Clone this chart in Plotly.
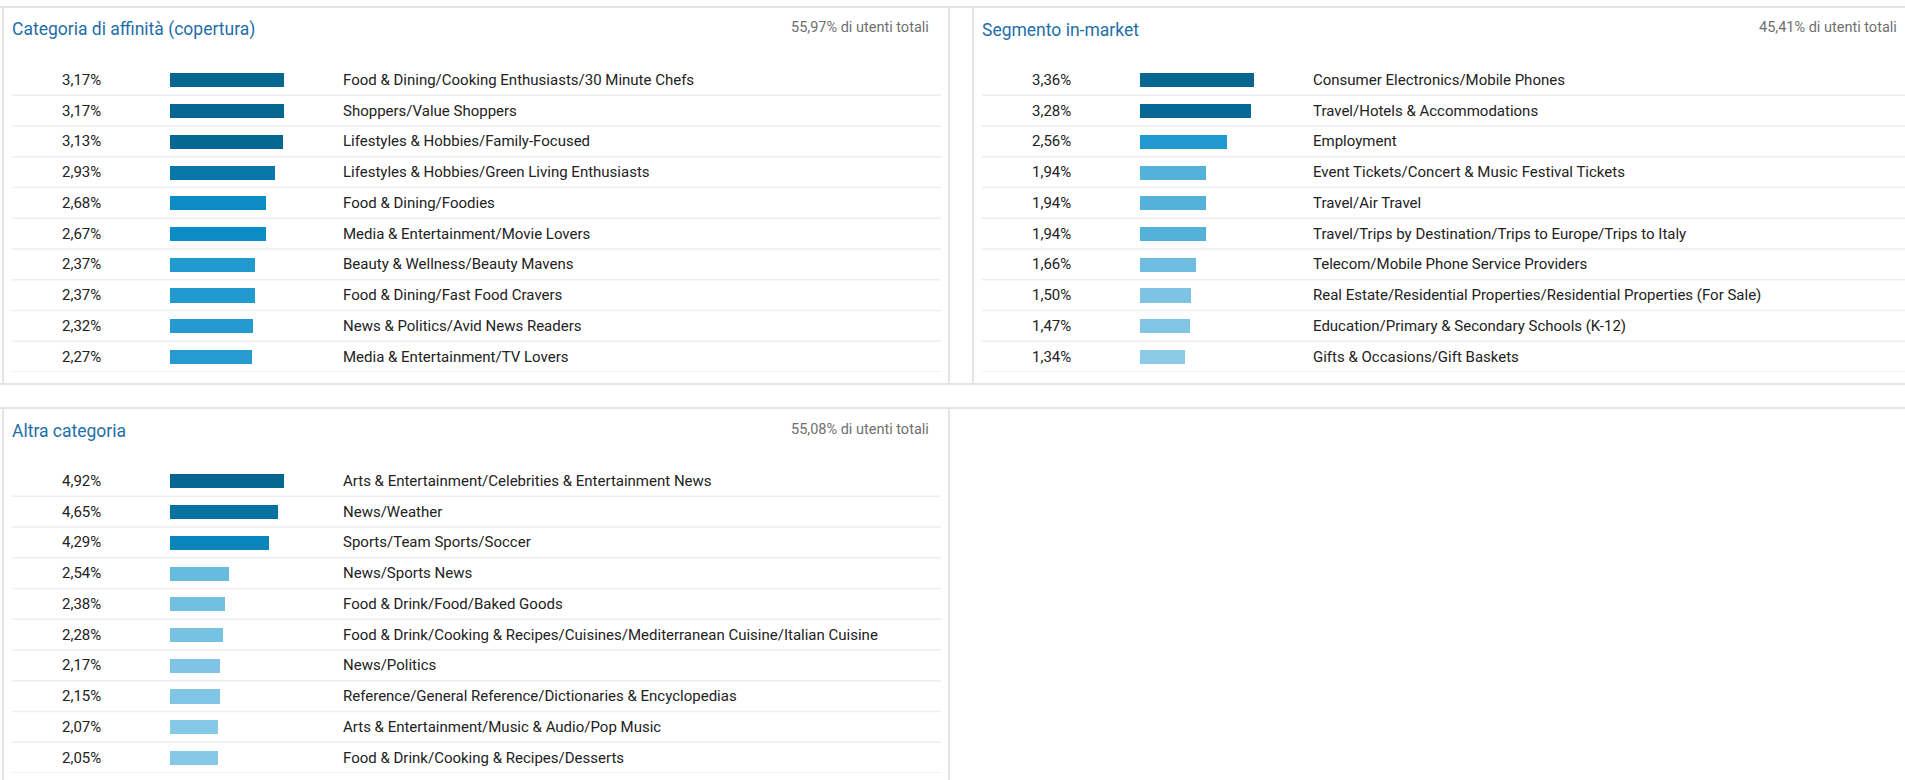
import plotly.graph_objects as go

W, H = 1905, 780

# ---------------- data ----------------
aff_labels = [
    "Food & Dining/Cooking Enthusiasts/30 Minute Chefs",
    "Shoppers/Value Shoppers",
    "Lifestyles & Hobbies/Family-Focused",
    "Lifestyles & Hobbies/Green Living Enthusiasts",
    "Food & Dining/Foodies",
    "Media & Entertainment/Movie Lovers",
    "Beauty & Wellness/Beauty Mavens",
    "Food & Dining/Fast Food Cravers",
    "News & Politics/Avid News Readers",
    "Media & Entertainment/TV Lovers",
]
aff_values = [3.17, 3.17, 3.13, 2.93, 2.68, 2.67, 2.37, 2.37, 2.32, 2.27]

inm_labels = [
    "Consumer Electronics/Mobile Phones",
    "Travel/Hotels & Accommodations",
    "Employment",
    "Event Tickets/Concert & Music Festival Tickets",
    "Travel/Air Travel",
    "Travel/Trips by Destination/Trips to Europe/Trips to Italy",
    "Telecom/Mobile Phone Service Providers",
    "Real Estate/Residential Properties/Residential Properties (For Sale)",
    "Education/Primary & Secondary Schools (K-12)",
    "Gifts & Occasions/Gift Baskets",
]
inm_values = [3.36, 3.28, 2.56, 1.94, 1.94, 1.94, 1.66, 1.50, 1.47, 1.34]

oth_labels = [
    "Arts & Entertainment/Celebrities & Entertainment News",
    "News/Weather",
    "Sports/Team Sports/Soccer",
    "News/Sports News",
    "Food & Drink/Food/Baked Goods",
    "Food & Drink/Cooking & Recipes/Cuisines/Mediterranean Cuisine/Italian Cuisine",
    "News/Politics",
    "Reference/General Reference/Dictionaries & Encyclopedias",
    "Arts & Entertainment/Music & Audio/Pop Music",
    "Food & Drink/Cooking & Recipes/Desserts",
]
oth_values = [4.92, 4.65, 4.29, 2.54, 2.38, 2.28, 2.17, 2.15, 2.07, 2.05]

panel_titles = ["Categoria di affinità (copertura)", "Segmento in-market", "Altra categoria"]
panel_totals = ["55,97% di utenti totali", "45,41% di utenti totali", "55,08% di utenti totali"]

# ---------------- style / layout ----------------
FONT = "Roboto, 'Noto Sans', Arial, sans-serif"
TITLE_COLOR = "#1f6ea8"
TOTAL_COLOR = "#6f6f6f"
TEXT_COLOR = "#222222"
BORDER = "#e4e4e4"
SEP = "#eeeeee"

COLORSCALE = [
    [0.00, "#8ccbe7"],
    [0.083, "#7cc3e3"],
    [0.167, "#6bbde0"],
    [0.30, "#52b1da"],
    [0.50, "#2a9cd1"],
    [0.60, "#1f99d0"],
    [0.75, "#0a8bc4"],
    [0.883, "#0877a8"],
    [0.95, "#066a96"],
    [1.00, "#056791"],
]
CMIN, CMAX = 0.40, 1.0

ROW_H = 30.74


def px_x(x):
    return x / W


def px_y(y):
    return 1 - y / H


panels = [
    dict(labels=aff_labels, values=aff_values, ox=3, oy=7, total_right=931),
    dict(labels=inm_labels, values=inm_values, ox=973, oy=7, total_right=1899),
    dict(labels=oth_labels, values=oth_values, ox=3, oy=408, total_right=931),
]

fig = go.Figure()
annotations = []
shapes = []

for k, p in enumerate(panels):
    ax = "" if k == 0 else str(k + 1)
    xname, yname = "x" + ax, "y" + ax
    vals = p["values"]
    vmax = max(vals)
    n = len(vals)
    ox, oy = p["ox"], p["oy"]
    first = oy + 73
    bar_left = ox + 167
    bar_w = 114

    fig.add_trace(go.Bar(
        x=vals,
        y=list(range(n)),
        orientation="h",
        width=0.46,
        marker=dict(
            color=[v / vmax for v in vals],
            colorscale=COLORSCALE, cmin=CMIN, cmax=CMAX,
            line=dict(width=0),
        ),
        xaxis=xname, yaxis=yname,
        hoverinfo="skip",
        showlegend=False,
    ))

    top_px = first - ROW_H / 2
    bot_px = first + ROW_H * (n - 1) + ROW_H / 2
    fig.update_layout(**{
        ("xaxis" + ax): dict(domain=[px_x(bar_left), px_x(bar_left + bar_w)],
                             range=[0, vmax], visible=False, fixedrange=True,
                             anchor=yname),
        ("yaxis" + ax): dict(domain=[px_y(bot_px), px_y(top_px)],
                             range=[n - 0.5, -0.5], visible=False, fixedrange=True,
                             anchor=xname),
    })

    for i, (lab, v) in enumerate(zip(p["labels"], vals)):
        annotations.append(dict(
            xref="paper", yref=yname, x=px_x(ox + 78), y=i,
            text=f"{v:.2f}".replace(".", ",") + "%",
            xanchor="center", yanchor="middle", showarrow=False,
            font=dict(family=FONT, size=15, color=TEXT_COLOR),
        ))
        annotations.append(dict(
            xref="paper", yref=yname, x=px_x(ox + 338), y=i,
            text=lab, xanchor="left", yanchor="middle", showarrow=False,
            font=dict(family=FONT, size=15, color=TEXT_COLOR),
        ))
        shapes.append(dict(
            type="line", xref="paper", yref=yname,
            x0=px_x(ox + 9), x1=min(1.0, px_x(ox + 938)), y0=i + 0.5, y1=i + 0.5,
            line=dict(color=SEP, width=1.5),
        ))

    annotations.append(dict(
        xref="paper", yref="paper", x=px_x(ox + 7), y=px_y(oy + 23),
        text=panel_titles[k], xanchor="left", yanchor="middle", showarrow=False,
        font=dict(family=FONT, size=17.5, color=TITLE_COLOR),
    ))
    annotations.append(dict(
        xref="paper", yref="paper", x=px_x(p["total_right"]), y=px_y(oy + 21),
        text=panel_totals[k], xanchor="right", yanchor="middle", showarrow=False,
        font=dict(family=FONT, size=14.5, color=TOTAL_COLOR),
    ))


def hline(y, x0, x1):
    shapes.append(dict(type="line", xref="paper", yref="paper",
                       x0=px_x(x0), x1=px_x(x1), y0=px_y(y), y1=px_y(y),
                       line=dict(color=BORDER, width=2)))


def vline(x, y0, y1):
    shapes.append(dict(type="line", xref="paper", yref="paper",
                       x0=px_x(x), x1=px_x(x), y0=px_y(y0), y1=px_y(y1),
                       line=dict(color=BORDER, width=2)))


hline(7, 0, W)
hline(384, 0, W)
hline(408, 0, W)
vline(3, 7, 384)
vline(949, 7, 384)
vline(973, 7, 384)
vline(3, 408, H)
vline(949, 408, H)

fig.update_layout(
    width=W, height=H,
    margin=dict(l=0, r=0, t=0, b=0),
    paper_bgcolor="white", plot_bgcolor="white",
    annotations=annotations, shapes=shapes,
    bargap=0,
)

fig.write_html("out.html", config={"displayModeBar": False},
               post_script="document.body.style.margin='0';document.body.style.overflow='hidden';")
